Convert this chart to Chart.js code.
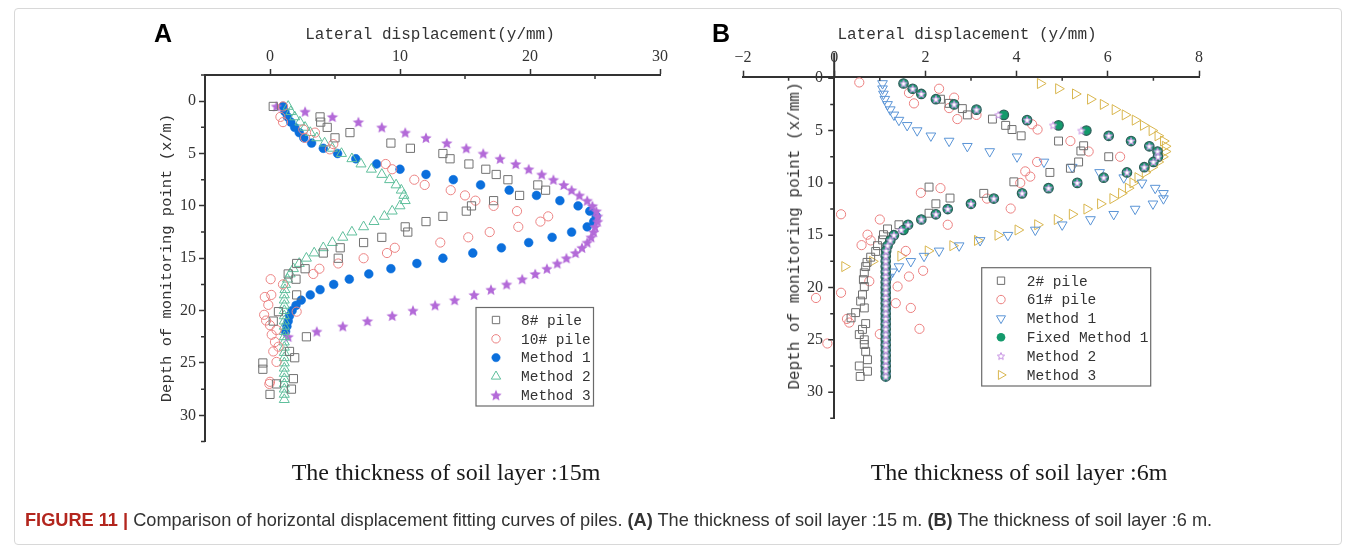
<!DOCTYPE html>
<html>
<head>
<meta charset="utf-8">
<title>Comparison of horizontal displacement fitting curves of piles</title>
<script src="https://cdn.jsdelivr.net/npm/chart.js@4.4.1/dist/chart.umd.min.js"></script>
<style>
  html, body { margin: 0; padding: 0; background: #ffffff; }
  #figure { position: relative; width: 1356px; height: 552px; overflow: hidden; background: #ffffff; }
  #figure canvas { position: absolute; top: 0; }
  .frame { position: absolute; left: 14px; top: 8px; width: 1328px; height: 537px; border: 1px solid #d8d8d8; border-radius: 4px; box-sizing: border-box; }
  .lbl { position: absolute; white-space: nowrap; transform: translate(-50%, -50%); color: #333; }
  .panel { font: bold 25px "Liberation Sans", Arial, sans-serif; color: #000; }
  .axis-title { font: 16px "Liberation Mono", monospace; color: #333; }
  .axis-title.v { transform: translate(-50%, -50%) rotate(-90deg); }
  .sub { font: 24px "Liberation Serif", serif; color: #1a1a1a; }
  .caption { position: absolute; left: 25px; top: 510px; font: 18.2px "Liberation Sans", Arial, sans-serif; color: #333; white-space: nowrap; }
  .caption .fig { color: #b3261e; font-weight: bold; }
</style>
</head>
<body>
<div id="figure">
  <div class="frame"></div>
  <canvas id="chartA" width="678" height="552" style="left:0px"></canvas>
  <canvas id="chartB" width="678" height="552" style="left:678px"></canvas>

  <div class="lbl panel" style="left:163px; top:33px;">A</div>
  <div class="lbl panel" style="left:721px; top:33px;">B</div>

  <div class="lbl axis-title" style="left:430px; top:35px;">Lateral displacement(y/mm)</div>
  <div class="lbl axis-title" style="left:967px; top:35px;">Lateral displacement (y/mm)</div>
  <div class="lbl axis-title v" style="left:167px; top:258px; font-size:15.5px;">Depth of monitoring point (x/m)</div>
  <div class="lbl axis-title v" style="left:795px; top:236px;">Depth of monitoring point (x/mm)</div>

  <div class="lbl sub" style="left:446px; top:472px;">The thickness of soil layer :15m</div>
  <div class="lbl sub" style="left:1019px; top:472px;">The thickness of soil layer :6m</div>

  <div class="caption"><span class="fig">FIGURE 11 |</span> Comparison of horizontal displacement fitting curves of piles. <b>(A)</b> The thickness of soil layer :15 m. <b>(B)</b> The thickness of soil layer :6 m.</div>
</div>

<script>
// ---------- Panel A: soil layer 15 m ----------
const aPile8Depth  = [0.5,1.5,2.0,2.5,3.0,3.5,4.0,4.5,5.0,5.5,6.0,6.5,7.0,7.5,8.0,8.5,9.0,9.5,10.0,10.5,11.0,11.5,12.0,12.5,13.0,13.5,14.0,14.5,15.0,15.5,16.0,16.5,17.0,18.5,20.1,21.0,22.5,23.9,24.5,25.0,25.6,26.5,27.0,27.5,28.0];
const aPile8Disp   = [0.25,3.85,3.9,4.4,6.15,5.0,9.3,10.8,13.3,13.85,15.3,16.6,17.4,18.3,20.6,21.2,19.2,17.2,15.5,15.1,13.3,12.0,10.4,10.6,8.6,7.2,5.4,4.1,5.25,2.05,2.7,1.4,2.0,2.05,0.65,0.25,2.8,1.5,1.9,-0.55,-0.55,1.8,0.5,1.65,0.0];

const aPile10Depth = [0.5,1.5,2.0,2.7,3.0,3.5,4.1,4.6,6.0,6.5,7.5,8.0,8.5,9.0,9.5,10.0,10.5,11.0,11.5,12.0,12.5,13.0,13.5,14.0,14.5,15.0,15.5,16.0,16.5,17.0,17.5,18.5,18.7,19.45,20.1,20.4,20.95,21.4,21.85,22.3,23.0,23.45,23.9,24.9,26.8,27.0];
const aPile10Disp  = [1.0,0.8,1.0,2.56,3.46,2.7,4.87,4.6,8.9,9.4,11.1,11.9,13.9,15.0,15.8,17.2,19.0,21.4,20.8,19.1,16.9,15.25,13.1,9.6,9.0,7.2,5.25,3.8,3.33,0.05,1.0,0.1,-0.4,-0.13,2.05,-0.45,-0.3,0.0,0.5,0.13,0.38,0.65,0.25,0.5,0.0,-0.05];

const aM1Depth = [0.5,1.0,1.5,2.0,2.5,3.0,3.5,4.0,4.5,5.0,5.5,6.0,6.5,7.0,7.5,8.0,8.5,9.0,9.5,10.0,10.5,11.0,11.5,12.0,12.5,13.0,13.5,14.0,14.5,15.0,15.5,16.0,16.5,17.0,17.5,18.0,18.5,19.0,19.5,20.0,20.5,21.0,21.5,22.0];
const aM1Disp  = [1.0,1.15,1.35,1.6,1.9,2.25,2.6,3.2,4.1,5.2,6.6,8.2,10.0,12.0,14.1,16.2,18.4,20.5,22.3,23.7,24.6,25.1,24.9,24.4,23.2,21.7,19.9,17.8,15.6,13.3,11.3,9.3,7.6,6.1,4.9,3.85,3.1,2.4,2.0,1.7,1.5,1.4,1.3,1.2];

const aM2Depth = [0.5,1.0,1.5,2.0,2.5,3.0,3.5,4.0,4.5,5.0,5.5,6.0,6.5,7.0,7.5,8.0,8.5,9.0,9.5,10.0,10.5,11.0,11.5,12.0,12.5,13.0,13.5,14.0,14.5,15.0,15.5,16.0,16.5,17.0,17.5,18.0,18.5,19.0,19.5,20.0,20.5,21.0,21.5,22.0,22.5,23.0,23.5,24.0,24.5,25.0,25.5,26.0,26.5,27.0,27.5,28.0,28.5];
const aM2Disp  = [1.4,1.6,1.9,2.3,2.7,3.1,3.6,4.2,4.8,5.5,6.3,7.0,7.8,8.6,9.2,9.7,10.1,10.3,10.4,10.0,9.4,8.8,8.0,7.2,6.3,5.6,4.8,4.1,3.4,2.8,2.25,1.8,1.55,1.35,1.2,1.15,1.1,1.1,1.1,1.1,1.1,1.1,1.1,1.1,1.1,1.1,1.1,1.1,1.1,1.1,1.1,1.1,1.1,1.1,1.1,1.1,1.1];

const aM3Depth = [0.5,1.0,1.5,2.0,2.5,3.0,3.5,4.0,4.5,5.0,5.5,6.0,6.5,7.0,7.5,8.0,8.5,9.0,9.5,10.0,10.5,11.0,11.5,12.0,12.5,13.0,13.5,14.0,14.5,15.0,15.5,16.0,16.5,17.0,17.5,18.0,18.5,19.0,19.5,20.0,20.5,21.0,21.5,22.0,22.5];
const aM3Disp  = [0.5,2.7,4.8,6.8,8.6,10.4,12.0,13.6,15.1,16.4,17.7,18.9,19.9,20.9,21.8,22.6,23.2,23.8,24.4,24.8,25.1,25.2,25.2,25.0,24.9,24.7,24.4,24.0,23.5,22.8,22.1,21.3,20.4,19.4,18.2,17.0,15.7,14.2,12.7,11.0,9.4,7.5,5.6,3.6,1.4];

const aXLabels = [0, 10, 20, 30];
const aYLabels = [0, 5, 10, 15, 20, 25, 30];

// ---------- Panel B: soil layer 6 m ----------
const bPile2Depth  = [2.0,2.4,2.9,3.5,3.9,4.5,4.9,5.5,6.0,6.45,6.95,7.5,8.0,8.6,9.0,9.9,10.4,11.0,11.45,12.0,12.9,14.0,14.4,14.95,15.45,16.0,16.55,17.1,17.6,18.0,18.6,19.25,19.9,20.7,21.3,21.95,22.4,22.9,23.45,24.0,24.5,25.0,25.45,26.1,26.9,27.5,28.0,28.5];
const bPile2Disp   = [2.33,2.52,2.81,2.92,3.47,3.76,3.9,4.1,4.92,5.47,5.41,6.02,5.36,5.18,4.73,3.94,2.08,3.28,2.54,2.23,2.08,1.42,1.17,1.08,1.06,0.95,0.91,0.8,0.72,0.69,0.66,0.64,0.66,0.62,0.58,0.66,0.47,0.37,0.69,0.62,0.55,0.66,0.66,0.69,0.73,0.55,0.73,0.57];

const bPile61Depth = [0.4,1.0,1.4,1.85,2.4,2.85,3.5,3.9,4.4,4.9,6.0,7.0,7.5,8.0,8.9,9.4,10.0,10.5,10.95,11.5,12.45,13.0,13.5,14.0,14.95,15.5,15.95,16.5,18.4,18.95,19.4,19.9,20.5,21.0,21.5,21.95,23.0,23.35,23.95,24.45,25.35];
const bPile61Disp  = [0.55,2.3,1.64,2.63,1.75,2.52,3.12,2.7,4.34,4.46,5.18,5.58,6.27,4.45,4.19,4.3,4.08,2.33,1.9,3.35,3.87,0.15,1.0,2.49,0.73,0.8,0.6,1.57,1.95,1.64,0.77,1.39,0.15,-0.4,1.35,1.68,0.28,0.33,1.87,1.0,-0.15];

const bDepth = [0.5,1.0,1.5,2.0,2.5,3.0,3.5,4.0,4.5,5.0,5.5,6.0,6.5,7.0,7.5,8.0,8.5,9.0,9.5,10.0,10.5,11.0,11.5,12.0,12.5,13.0,13.5,14.0,14.5,15.0,15.5,16.0,16.5,17.0,17.5,18.0,18.5,19.0,19.5,20.0,20.5,21.0,21.5,22.0,22.5,23.0,23.5,24.0,24.5,25.0,25.5,26.0,26.5,27.0,27.5,28.0,28.5];
const bM1Disp    = [1.06,1.06,1.08,1.11,1.17,1.23,1.31,1.42,1.6,1.82,2.12,2.52,2.92,3.41,4.01,4.6,5.22,5.82,6.35,6.75,7.04,7.22,7.22,6.99,6.6,6.13,5.62,5.0,4.41,3.81,3.2,2.74,2.3,1.97,1.68,1.42,1.28,1.2,1.15,1.13,1.13,1.13,1.13,1.13,1.13,1.13,1.13,1.13,1.13,1.13,1.13,1.13,1.13,1.13,1.13,1.13,1.13];
const bFixedDisp = [1.52,1.72,1.91,2.23,2.63,3.12,3.72,4.23,4.92,5.53,6.02,6.51,6.91,7.09,7.1,7.0,6.8,6.42,5.91,5.33,4.7,4.12,3.5,3.0,2.49,2.23,1.91,1.62,1.52,1.31,1.23,1.17,1.14,1.13,1.13,1.13,1.13,1.13,1.13,1.13,1.13,1.13,1.13,1.13,1.13,1.13,1.13,1.13,1.13,1.13,1.13,1.13,1.13,1.13,1.13,1.13,1.13];
const bM2Disp    = [1.52,1.72,1.91,2.23,2.63,3.12,3.6,4.23,4.8,5.42,6.02,6.51,6.91,7.09,7.1,7.0,6.8,6.42,5.91,5.33,4.7,4.12,3.5,3.0,2.49,2.23,1.91,1.62,1.47,1.31,1.23,1.17,1.14,1.13,1.13,1.13,1.13,1.13,1.13,1.13,1.13,1.13,1.13,1.13,1.13,1.13,1.13,1.13,1.13,1.13,1.13,1.13,1.13,1.13,1.13,1.13,1.13];

const bM3Depth = [0.5,1.0,1.5,2.0,2.5,3.0,3.5,4.0,4.5,5.0,5.5,6.0,6.5,7.0,7.5,8.0,8.5,9.0,9.5,10.0,10.5,11.0,11.5,12.0,12.5,13.0,13.5,14.0,14.5,15.0,15.5,16.0,16.5,17.0,17.5,18.0];
const bM3Disp  = [4.52,4.92,5.29,5.62,5.9,6.16,6.38,6.6,6.78,6.97,7.1,7.22,7.26,7.26,7.2,7.1,6.97,6.82,6.66,6.55,6.45,6.3,6.11,5.84,5.54,5.22,4.89,4.46,4.03,3.59,3.14,2.6,2.06,1.46,0.84,0.23];

const bXLabels = [-2, 0, 2, 4, 6, 8];
const bYLabels = [0, 5, 10, 15, 20, 25, 30];

// ---------- helpers ----------
const AXIS = '#333333';
const CLEAR = 'rgba(0,0,0,0)';
const GAP = '\u2002\u2009';   // keeps the y labels of the value-positioned axis clear of its line

function pts(depths, disps) {
  return depths.map((d, i) => ({ x: disps[i], y: d }));
}

// Five-pointed star marker drawn on a small offscreen canvas
function starMarker(outerR, fill, stroke, lineW) {
  const size = Math.ceil(outerR * 2 + 4);
  const c = document.createElement('canvas');
  c.width = size; c.height = size;
  const g = c.getContext('2d');
  const cx = size / 2, cy = size / 2 + outerR * 0.08;
  g.beginPath();
  for (let i = 0; i < 10; i++) {
    const r = (i % 2) ? outerR * 0.45 : outerR;
    const a = -Math.PI / 2 + i * Math.PI / 5;
    g.lineTo(cx + r * Math.cos(a), cy + r * Math.sin(a));
  }
  g.closePath();
  if (fill) { g.fillStyle = fill; g.fill(); }
  if (stroke) { g.lineWidth = lineW; g.strokeStyle = stroke; g.stroke(); }
  return c;
}

function fmt(v) { return v < 0 ? '\u2212' + Math.abs(v) : String(v); }

// Framed legend drawn inside the plot
const boxLegend = {
  id: 'boxLegend',
  afterDraw(chart, args, o) {
    if (!o || !o.box) return;
    const ctx = chart.ctx;
    const [x0, y0, x1, y1] = o.box;
    ctx.save();
    ctx.fillStyle = '#ffffff';
    ctx.fillRect(x0, y0, x1 - x0, y1 - y0);
    ctx.lineWidth = 1.2;
    ctx.strokeStyle = '#6a6a6a';
    ctx.strokeRect(x0, y0, x1 - x0, y1 - y0);
    ctx.font = o.font;
    ctx.textBaseline = 'middle';
    ctx.textAlign = 'left';
    chart.data.datasets.forEach((ds, i) => {
      const y = o.rowY + i * o.rowStep;
      ctx.fillStyle = ds.legendFill || ds.backgroundColor;
      ctx.strokeStyle = ds.legendStroke || ds.borderColor;
      ctx.lineWidth = ds.borderWidth;
      Chart.helpers.drawPoint(ctx, {
        pointStyle: ds.legendStyle || ds.pointStyle,
        radius: ds.legendRadius || ds.pointRadius,
        rotation: ds.pointRotation || 0,
        borderWidth: ds.legendStroke === CLEAR ? 0 : ds.borderWidth
      }, o.markerX, y);
      ctx.fillStyle = '#333333';
      ctx.fillText(ds.label, o.textX, y + 1);
    });
    ctx.restore();
  }
};

// Short inward x minor ticks, outward y ticks drawn at the y axis, optional stem of the y axis above the x axis
const axisExtras = {
  id: 'axisExtras',
  afterDraw(chart, args, o) {
    const ctx = chart.ctx, xs = chart.scales.x, ys = chart.scales.y, area = chart.chartArea;
    const yAxisPx = xs.getPixelForValue(o.yAxisAt);
    ctx.save();
    ctx.strokeStyle = AXIS;
    ctx.lineWidth = 1.5;
    ctx.beginPath();
    xs.ticks.forEach(t => {
      if (t.label === '') {
        const p = xs.getPixelForValue(t.value);
        ctx.moveTo(p, area.top);
        ctx.lineTo(p, area.top + o.xMinorLen);
      }
    });
    ys.ticks.forEach(t => {
      const major = t.label !== '';
      if (major && !o.yMajorLen) return;
      const p = ys.getPixelForValue(t.value);
      ctx.moveTo(yAxisPx, p);
      ctx.lineTo(yAxisPx - (major ? o.yMajorLen : o.yMinorLen), p);
    });
    ctx.stroke();
    if (o.stem) {
      ctx.lineWidth = 2;
      ctx.beginPath();
      ctx.moveTo(yAxisPx, area.top);
      ctx.lineTo(yAxisPx, area.top - o.stem);
      ctx.stroke();
    }
    ctx.restore();
  }
};

function tickFont() { return { family: '"Liberation Serif", "Times New Roman", serif', size: 16 }; }
function majorTickColor(labels) {
  return c => (c.tick && labels.includes(c.tick.value)) ? AXIS : CLEAR;
}

// ---------- Chart A ----------
const starA = starMarker(6, '#b36ad8', null, 0);

new Chart(document.getElementById('chartA'), {
  type: 'scatter',
  data: {
    datasets: [
      { label: '8# pile', data: pts(aPile8Depth, aPile8Disp), pointStyle: 'rect', pointRadius: 5.8, legendRadius: 5.2,
        backgroundColor: CLEAR, borderColor: '#727272', borderWidth: 1, order: 1 },
      { label: '10# pile', data: pts(aPile10Depth, aPile10Disp), pointStyle: 'circle', pointRadius: 4.6, legendRadius: 4.2,
        backgroundColor: CLEAR, borderColor: '#ec8484', borderWidth: 1, order: 2 },
      { label: 'Method 1', data: pts(aM1Depth, aM1Disp), pointStyle: 'circle', pointRadius: 4.4, legendRadius: 4.2,
        backgroundColor: '#0b6fdc', borderColor: '#0b6fdc', borderWidth: 0.5, order: 5 },
      { label: 'Method 2', data: pts(aM2Depth, aM2Disp), pointStyle: 'triangle', pointRadius: 5.8, legendRadius: 5.4,
        backgroundColor: CLEAR, borderColor: '#5fbf9c', borderWidth: 1, order: 3 },
      { label: 'Method 3', data: pts(aM3Depth, aM3Disp), pointStyle: starA, pointRadius: 6,
        backgroundColor: '#b36ad8', borderColor: '#b36ad8', borderWidth: 0, legendStroke: CLEAR, order: 4 }
    ]
  },
  options: {
    responsive: false,
    animation: false,
    devicePixelRatio: 1,
    events: [],
    layout: { padding: { left: 150, right: 18, top: 30, bottom: 110.5 } },
    plugins: {
      legend: { display: false },
      tooltip: { enabled: false },
      boxLegend: { box: [476, 307.5, 593.5, 406], markerX: 496, textX: 521, rowY: 320, rowStep: 18.8,
                   font: '14.5px "Liberation Mono", monospace' },
      axisExtras: { yAxisAt: -5, xMinorLen: 4, yMinorLen: 4 }
    },
    scales: {
      x: {
        type: 'linear', position: 'top', min: -5, max: 30,
        afterFit(s) { s.height = 45; },
        ticks: { stepSize: 5, autoSkip: false, maxRotation: 0, padding: 3, color: '#333',
                 font: tickFont(), callback: v => aXLabels.includes(v) ? fmt(v) : '' },
        grid: { drawOnChartArea: false, drawTicks: true, tickLength: 6, tickWidth: 1.5, tickColor: majorTickColor(aXLabels) },
        border: { display: true, color: AXIS, width: 2 }
      },
      y: {
        type: 'linear', position: 'left', reverse: true, min: -2.5, max: 32.5,
        afterFit(s) { s.width = 55; },
        ticks: { stepSize: 2.5, autoSkip: false, padding: 3, color: '#333',
                 font: tickFont(), callback: v => aYLabels.includes(v) ? fmt(v) : '' },
        grid: { drawOnChartArea: false, drawTicks: true, tickLength: 6, tickWidth: 1.5, tickColor: majorTickColor(aYLabels) },
        border: { display: true, color: AXIS, width: 2 }
      }
    }
  },
  plugins: [boxLegend, axisExtras]
});

// ---------- Chart B ----------
const starB = starMarker(3.8, '#ffffff', '#c58fe2', 1);

new Chart(document.getElementById('chartB'), {
  type: 'scatter',
  data: {
    datasets: [
      { label: '2# pile', data: pts(bPile2Depth, bPile2Disp), pointStyle: 'rect', pointRadius: 5.6, legendRadius: 5.2,
        backgroundColor: CLEAR, borderColor: '#6e6e6e', borderWidth: 1, order: 3 },
      { label: '61# pile', data: pts(bPile61Depth, bPile61Disp), pointStyle: 'circle', pointRadius: 4.6, legendRadius: 4.2,
        backgroundColor: CLEAR, borderColor: '#ec8080', borderWidth: 1, order: 4 },
      { label: 'Method 1', data: pts(bDepth, bM1Disp), pointStyle: 'triangle', pointRotation: 180, pointRadius: 5.6, legendRadius: 5.2,
        backgroundColor: CLEAR, borderColor: '#5a94d6', borderWidth: 1, order: 5 },
      { label: 'Fixed Method 1', data: pts(bDepth, bFixedDisp), pointStyle: 'circle', pointRadius: 4.7, legendRadius: 4.3,
        backgroundColor: '#149a6c', borderColor: '#2d5f5a', borderWidth: 1.3, legendStroke: CLEAR, order: 2 },
      { label: 'Method 2', data: pts(bDepth, bM2Disp), pointStyle: starB, pointRadius: 4,
        backgroundColor: '#ffffff', borderColor: '#c58fe2', borderWidth: 1, order: 1 },
      { label: 'Method 3', data: pts(bM3Depth, bM3Disp), pointStyle: 'triangle', pointRotation: 90, pointRadius: 5.8, legendRadius: 5.2,
        backgroundColor: CLEAR, borderColor: '#d9b64e', borderWidth: 1, order: 6 }
    ]
  },
  options: {
    responsive: false,
    animation: false,
    devicePixelRatio: 1,
    events: [],
    layout: { padding: { left: 65, right: 157, top: 31.7, bottom: 133.7 } },
    plugins: {
      legend: { display: false },
      tooltip: { enabled: false },
      boxLegend: { box: [303.7, 267.7, 472.7, 386], markerX: 323, textX: 348.7, rowY: 280.7, rowStep: 18.85,
                   font: '14.5px "Liberation Mono", monospace' },
      axisExtras: { yAxisAt: 0, xMinorLen: 4, yMinorLen: 4, yMajorLen: 6, stem: 24 }
    },
    scales: {
      x: {
        type: 'linear', position: 'top', min: -2, max: 8,
        afterFit(s) { s.height = 45; },
        ticks: { stepSize: 1, autoSkip: false, maxRotation: 0, padding: 3, color: '#333',
                 font: tickFont(), callback: v => bXLabels.includes(v) ? fmt(v) : '' },
        grid: { drawOnChartArea: false, drawTicks: true, tickLength: 6, tickWidth: 1.5, tickColor: majorTickColor(bXLabels) },
        border: { display: true, color: AXIS, width: 2 }
      },
      y: {
        type: 'linear', position: { x: 0 }, reverse: true, min: -0.15, max: 32.5,
        ticks: { stepSize: 2.5, includeBounds: false, autoSkip: false, color: '#333',
                 font: tickFont(), callback: v => bYLabels.includes(v) ? fmt(v) + GAP : '' },
        grid: { drawOnChartArea: false, drawTicks: false, tickColor: CLEAR },
        border: { display: true, color: AXIS, width: 2 }
      }
    }
  },
  plugins: [boxLegend, axisExtras]
});
</script>
</body>
</html>
